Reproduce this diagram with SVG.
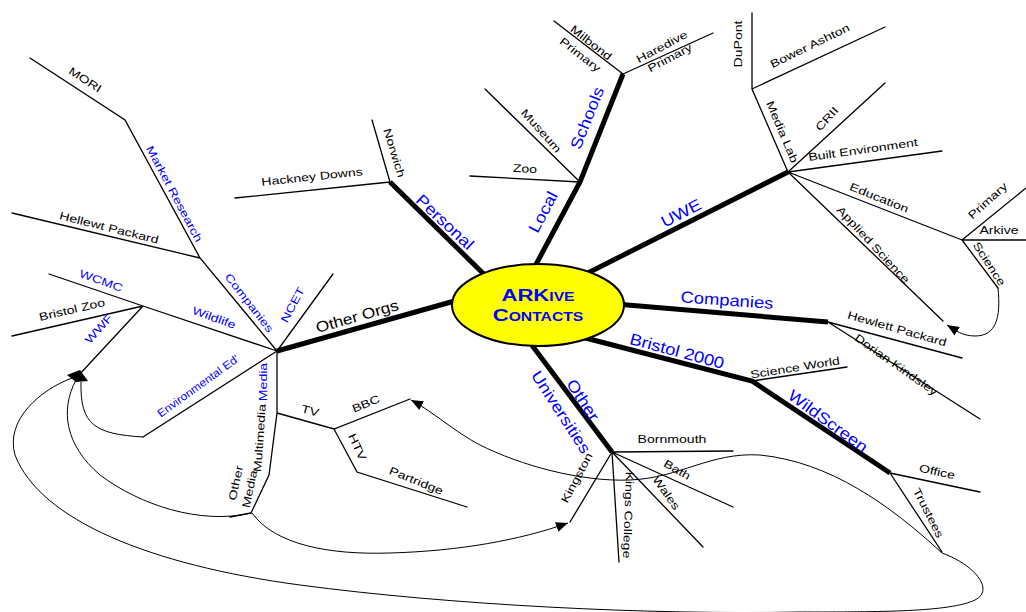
<svg xmlns="http://www.w3.org/2000/svg" width="1026" height="612" viewBox="0 0 1026 612">
<style>
text{font-family:"Liberation Sans",Arial,sans-serif;text-anchor:middle;dominant-baseline:central}
.s{font-size:11px;fill:#000}
.sb{font-size:11px;fill:#0000ff}
.m{font-size:16px;fill:#0000ff}
.o{font-size:15px;fill:#000}
.t{stroke:#000;stroke-width:1.3;fill:none;stroke-linecap:round}
.k{stroke:#000;stroke-width:5;fill:none;stroke-linecap:butt}
.c{stroke:#000;stroke-width:1;fill:none}
.ct{font-size:17px;font-weight:bold;fill:#0000ff;font-variant:small-caps}
</style>
<defs>
<marker id="ah" markerUnits="userSpaceOnUse" markerWidth="13" markerHeight="10" refX="12" refY="5" orient="auto" viewBox="0 0 13 10"><path d="M0,0 L12,5 L0,10 z" fill="#000"/></marker>
</defs>
<rect width="1026" height="612" fill="#fff"/>

<g id="connectors">
<path class="c" d="M998,288 C1001,318 996,336 975,336 C962,336 955,330 947,325" marker-end="url(#ah)"/>
<path class="c" d="M942,553 C890,505 830,462 760,455 C710,452 680,478 630,480 C580,482 520,465 480,445 C455,432 432,411 411,400" marker-end="url(#ah)"/>
<path class="c" d="M252,513 C275,545 330,555 390,553 C460,551 520,540 568,523" marker-end="url(#ah)"/>
<path class="c" d="M252,513 C200,525 140,505 100,475 C65,445 60,410 76,380"/>
<path class="c" d="M143,437 C95,434 80,425 81,382"/>
<path class="c" d="M942,553 C975,565 995,590 975,600 C950,612 880,612 800,612 C650,615 450,605 300,585 C150,565 40,520 15,455 C5,420 40,390 72,378"/>
<polygon points="67,375 80,370 88,381 76,382" fill="#000"/>
</g>

<g id="node-personal">
<path class="k" d="M390,182 L500,290"/>
<path class="t" d="M235,198 L390,182 M390,182 L372,120"/>
<text class="m" transform="translate(445,222) rotate(43) scale(1.15,1)">Personal</text>
<text class="s" transform="translate(312,177) rotate(-6) scale(1.28,1)">Hackney Downs</text>
<text class="s" transform="translate(394,153) rotate(73) scale(1.28,1)">Norwich</text>
</g>

<g id="node-local">
<path class="k" d="M525,285 L580,182 L623,74"/>
<path class="t" d="M580,182 L485,89 M580,182 L470,176 M623,74 L554,21 M623,74 L713,33"/>
<text class="m" transform="translate(543,212) rotate(-62) scale(1.15,1)">Local</text>
<text class="m" transform="translate(587,118) rotate(-68) scale(1.15,1)">Schools</text>
<text class="s" transform="translate(541,131) rotate(48) scale(1.28,1)">Museum</text>
<text class="s" transform="translate(525,169) rotate(3) scale(1.28,1)">Zoo</text>
<text class="s" transform="translate(591,43) rotate(38) scale(1.28,1)">Milbond</text>
<text class="s" transform="translate(580,55) rotate(38) scale(1.28,1)">Primary</text>
<text class="s" transform="translate(662,47) rotate(-28) scale(1.28,1)">Haredive</text>
<text class="s" transform="translate(670,58) rotate(-28) scale(1.28,1)">Primary</text>
</g>

<g id="node-uwe">
<path class="k" d="M560,287 L788,172"/>
<path class="t" d="M788,172 L752,89 L752,13 M752,89 L885,27 M788,172 L885,83 M788,172 L942,151 M788,172 L962,240 M788,172 L943,321 M962,240 L1026,188 M962,240 L1026,240 M962,240 L998,288"/>
<text class="m" transform="translate(681,213) rotate(-27) scale(1.15,1)">UWE</text>
<text class="s" transform="translate(739,44) rotate(-90) scale(1.28,1)">DuPont</text>
<text class="s" transform="translate(810,46) rotate(-26) scale(1.28,1)">Bower Ashton</text>
<text class="s" transform="translate(827,119) rotate(-48) scale(1.28,1)">CRII</text>
<text class="s" transform="translate(782,132) rotate(67) scale(1.28,1)">Media Lab</text>
<text class="s" transform="translate(863,150) rotate(-8) scale(1.28,1)">Built Environment</text>
<text class="s" transform="translate(879,198) rotate(22) scale(1.28,1)">Education</text>
<text class="s" transform="translate(873,245) rotate(47) scale(1.28,1)">Applied Science</text>
<text class="s" transform="translate(988,201) rotate(-42) scale(1.28,1)">Primary</text>
<text class="s" transform="translate(999,231) scale(1.28,1)">Arkive</text>
<text class="s" transform="translate(989,264) rotate(57) scale(1.28,1)">Science</text>
</g>

<g id="node-companies">
<path class="k" d="M580,301 L828,322"/>
<path class="t" d="M828,322 L962,358 M828,322 L980,419"/>
<text class="m" transform="translate(727,300) rotate(4) scale(1.15,1)">Companies</text>
<text class="s" transform="translate(897,329) rotate(16) scale(1.28,1)">Hewlett Packard</text>
<text class="s" transform="translate(896,365) rotate(35) scale(1.28,1)">Dorian Kindsley</text>
</g>

<g id="node-bristol2000">
<path class="k" d="M570,334 L752,381 L890,473"/>
<path class="t" d="M752,381 L847,367 M890,473 L980,492 M890,473 L942,552"/>
<text class="m" transform="translate(677,351) rotate(15) scale(1.15,1)">Bristol 2000</text>
<text class="m" transform="translate(828,421) rotate(36) scale(1.15,1)">WildScreen</text>
<text class="s" transform="translate(795,368) rotate(-9) scale(1.28,1)">Science World</text>
<text class="s" transform="translate(937,472) rotate(12) scale(1.28,1)">Office</text>
<text class="s" transform="translate(928,513) rotate(63) scale(1.28,1)">Trustees</text>
</g>

<g id="node-other-universities">
<path class="k" d="M525,336 L612,452"/>
<path class="t" d="M612,452 L733,451 M612,452 L733,507 M612,452 L703,547 M612,452 L619,562 M612,452 L570,522"/>
<text class="m" transform="translate(583,400) rotate(57) scale(1.15,1)">Other</text>
<text class="m" transform="translate(561,412) rotate(57) scale(1.15,1)">Universities</text>
<text class="s" transform="translate(672,440) scale(1.28,1)">Bornmouth</text>
<text class="s" transform="translate(677,470) rotate(30) scale(1.28,1)">Bath</text>
<text class="s" transform="translate(666,493) rotate(55) scale(1.28,1)">Wales</text>
<text class="s" transform="translate(628,515) rotate(92) scale(1.28,1)">Kings College</text>
<text class="s" transform="translate(577,478) rotate(-62) scale(1.28,1)">Kingston</text>
</g>

<g id="node-other-orgs">
<path class="k" d="M277,351 L490,291"/>
<path class="t" d="M277,351 L200,258 L125,120 L30,58 M200,258 L12,213 M277,351 L143,306 L49,274 M143,306 L12,336 M143,306 L78,376 M277,351 L333,274 M277,351 L143,437 M277,351 L277,413 L269,475 L251,513 L230,517 M277,413 L334,429 L410,399 M334,429 L357,472 L467,507"/>
<text class="o" transform="translate(357,316) rotate(-16) scale(1.15,1)">Other Orgs</text>
<text class="sb" transform="translate(174,194) rotate(62) scale(1.28,1)">Market Research</text>
<text class="sb" transform="translate(249,303) rotate(52) scale(1.28,1)">Companies</text>
<text class="sb" transform="translate(293,305) rotate(-62) scale(1.28,1)">NCET</text>
<text class="sb" transform="translate(101,281) rotate(20) scale(1.28,1)">WCMC</text>
<text class="sb" transform="translate(214,318) rotate(20) scale(1.28,1)">Wildlife</text>
<text class="sb" transform="translate(99,329) rotate(-48) scale(1.28,1)">WWF</text>
<text class="sb" transform="translate(198,386) rotate(-36) scale(1.1,1)">Environmental Ed'</text>
<text class="sb" transform="translate(264,382) rotate(-90) scale(1.28,1)">Media</text>
<text class="s" transform="translate(85,80) rotate(33) scale(1.28,1)">MORI</text>
<text class="s" transform="translate(109,228) rotate(14) scale(1.28,1)">Hellewt Packard</text>
<text class="s" transform="translate(72,310) rotate(-13) scale(1.28,1)">Bristol Zoo</text>
<text class="s" transform="translate(310,411) rotate(15) scale(1.28,1)">TV</text>
<text class="s" transform="translate(366,404) rotate(-22) scale(1.28,1)">BBC</text>
<text class="s" transform="translate(357,447) rotate(65) scale(1.28,1)">HTV</text>
<text class="s" transform="translate(416,481) rotate(22) scale(1.28,1)">Partridge</text>
<text class="s" transform="translate(260,438) rotate(-86) scale(1.28,1)">Multimedia</text>
<text class="s" transform="translate(236,483) rotate(-78) scale(1.28,1)">Other</text>
<text class="s" transform="translate(250,489) rotate(-78) scale(1.28,1)">Media</text>
</g>

<g id="node-center">
<ellipse cx="538" cy="305" rx="86" ry="41" fill="#ffff00" stroke="#000" stroke-width="2"/>
<text class="ct" transform="translate(538,295) scale(1.3,1)">ARKive</text>
<text class="ct" transform="translate(538,315) scale(1.3,1)">Contacts</text>
</g>
</svg>
